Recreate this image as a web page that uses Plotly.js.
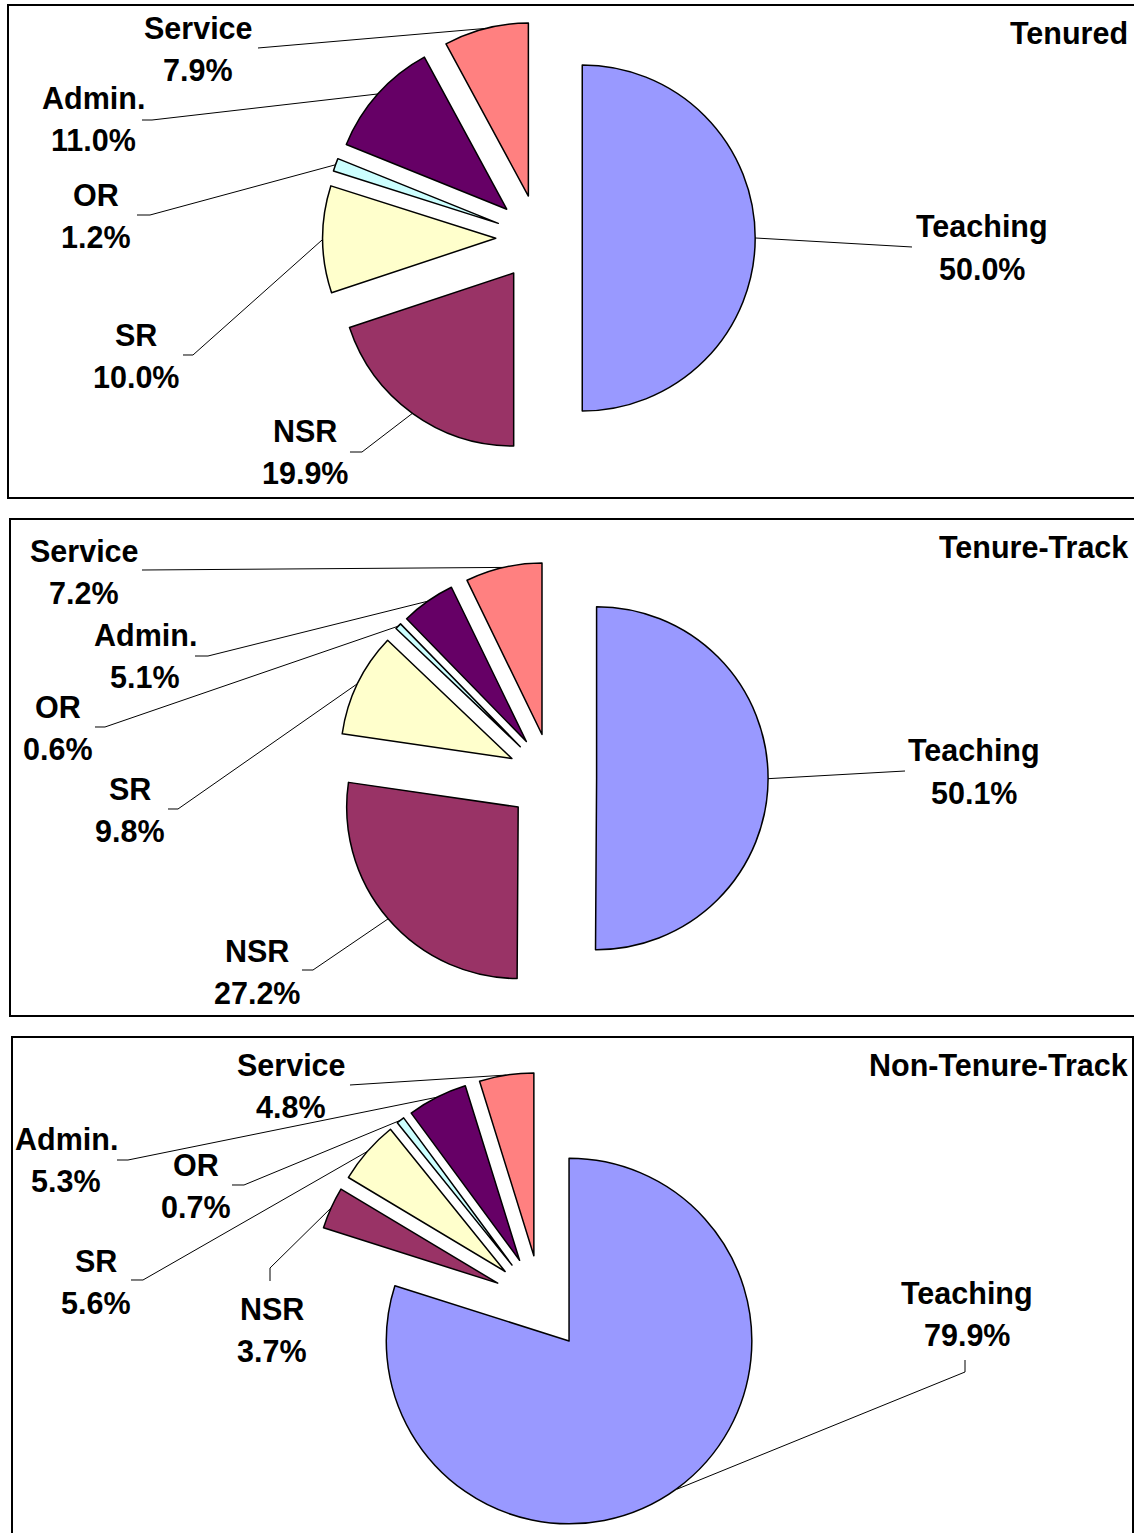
<!DOCTYPE html>
<html><head><meta charset="utf-8">
<script src="https://cdn.plot.ly/plotly-3.0.1.min.js"></script>
<style>html,body{margin:0;padding:0;background:#fff}</style>
</head><body><div id="chart" style="width:1134px;height:1533px"></div>
<script>
// ---- data ----
const categories = ['Teaching', 'NSR', 'SR', 'OR', 'Admin.', 'Service'];
const tenured = [50.0, 19.9, 10.0, 1.2, 11.0, 7.9];
const tenureTrack = [50.1, 27.2, 9.8, 0.6, 5.1, 7.2];
const nonTenureTrack = [79.9, 3.7, 5.6, 0.7, 5.3, 4.8];
const panelTitles = ['Tenured', 'Tenure-Track', 'Non-Tenure-Track'];
const sliceColors = ['#9999FF', '#993366', '#FFFFCC', '#CCFFFF', '#660066', '#FF8080'];

// ---- layout config (pixels) ----
const W = 1134, H = 1533;
const panels = [
  { values: tenured, c: [539, 238], r: 173, pull: 0.25, box: [8, 5, 1150, 498], titleY: 33,
    labels: [[982, 227], [305, 431], [136, 335], [96, 195], [93, 98], [198, 28]],
    paths: [[[912, 247]], [[350, 452], [362, 452]], [[183, 355], [193, 355]], [[137, 215], [150, 215]], [[142, 120], [152, 120]], [[258, 48]]] },
  { values: tenureTrack, c: [552, 778], r: 171.5, pull: 0.26, box: [10, 519, 1150, 1016], titleY: 547,
    labels: [[974, 751], [257, 951], [130, 789], [58, 707], [145, 635], [84, 551]],
    paths: [[[905, 771]], [[302, 970], [313, 970]], [[168, 809], [178, 809]], [[95, 727], [105, 727]], [[195, 656], [208, 656]], [[142, 570]]] },
  { values: nonTenureTrack, c: [541, 1303], r: 183, pull: 0.26, box: [12, 1037, 1133, 1560], titleY: 1065,
    labels: [[967, 1293], [272, 1309], [96, 1261], [196, 1165], [66, 1139], [291, 1065]],
    paths: [[[965, 1360], [965, 1372]], [[270, 1281], [270, 1268]], [[131, 1280], [143, 1280]], [[232, 1185], [244, 1185]], [[117, 1160], [128, 1160]], [[350, 1085]]] }
];

const px = x => x / W;
const py = y => 1 - y / H;
const font = { family: 'Liberation Sans, Arial, sans-serif', size: 30.5, color: '#000', weight: 'bold' };

const traces = [], shapes = [], annotations = [];
panels.forEach((p, pi) => {
  const side = 2 * p.r * (1 + p.pull);
  traces.push({
    type: 'pie', labels: categories, values: p.values, sort: false, direction: 'clockwise', rotation: 0,
    pull: p.values.map(() => p.pull), textinfo: 'none', hoverinfo: 'label+percent', showlegend: false,
    marker: { colors: sliceColors, line: { color: '#000', width: 1.5 } },
    domain: { x: [px(p.c[0] - side / 2), px(p.c[0] + side / 2)], y: [py(p.c[1] + side / 2), py(p.c[1] - side / 2)] }
  });
  // panel border
  shapes.push({ type: 'rect', xref: 'paper', yref: 'paper', x0: px(p.box[0]), x1: px(p.box[2]), y0: py(p.box[3]), y1: py(p.box[1]),
    line: { color: '#000', width: 2 }, fillcolor: 'rgba(0,0,0,0)', layer: 'below' });
  annotations.push({ xref: 'paper', yref: 'paper', x: px(1130), y: py(p.titleY), xanchor: 'right', yanchor: 'middle',
    text: panelTitles[pi], showarrow: false, font: font });
  const total = p.values.reduce((a, b) => a + b, 0);
  let cum = 0;
  p.values.forEach((v, i) => {
    const th = 2 * Math.PI * (cum + v / 2) / total;
    cum += v;
    const dist = p.r * (1 + p.pull);
    const tip = [p.c[0] + dist * Math.sin(th), p.c[1] - dist * Math.cos(th)];
    const pts = p.paths[i].concat([tip]);
    const d = pts.map((q, k) => (k ? 'L' : 'M') + px(q[0]).toFixed(5) + ',' + py(q[1]).toFixed(5)).join(' ');
    shapes.push({ type: 'path', xref: 'paper', yref: 'paper', path: d, line: { color: '#000', width: 1 } });
    const L = p.labels[i];
    annotations.push({ xref: 'paper', yref: 'paper', x: px(L[0]), y: py(L[1]), xanchor: 'center', yanchor: 'middle',
      text: categories[i], showarrow: false, font: font });
    annotations.push({ xref: 'paper', yref: 'paper', x: px(L[0]), y: py(L[1] + 42), xanchor: 'center', yanchor: 'middle',
      text: v.toFixed(1) + '%', showarrow: false, font: font });
  });
});

Plotly.newPlot('chart', traces, {
  width: W, height: H, margin: { l: 0, r: 0, t: 0, b: 0 },
  paper_bgcolor: '#fff', plot_bgcolor: '#fff', showlegend: false,
  shapes: shapes, annotations: annotations
}, { staticPlot: true });
</script></body></html>
